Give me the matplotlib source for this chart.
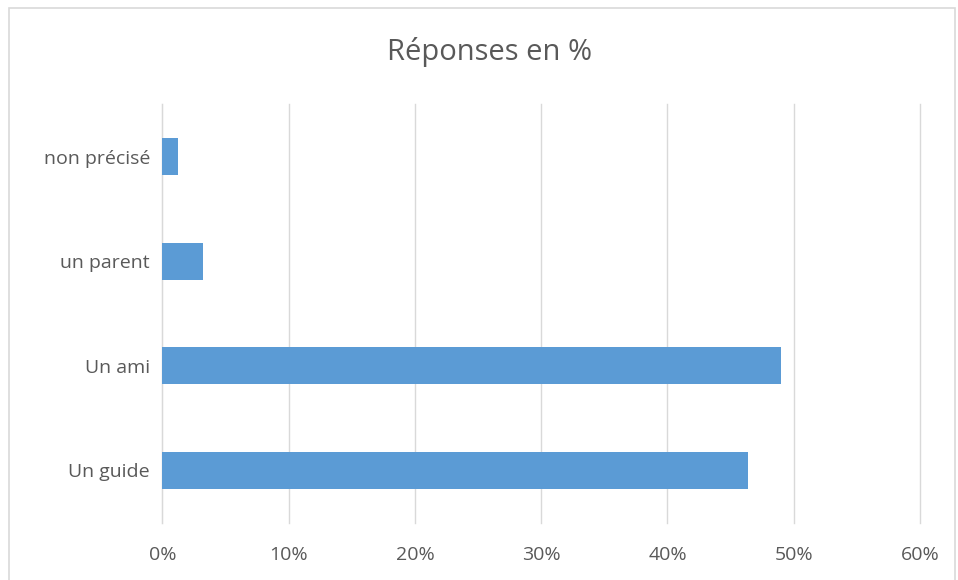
import matplotlib.pyplot as plt
from matplotlib.patches import Rectangle
from matplotlib.ticker import FuncFormatter

categories = ['Un guide', 'Un ami', 'un parent', 'non précisé']
values = [46.4, 49.0, 3.2, 1.25]
ticks = [0, 10, 20, 30, 40, 50, 60]

plt.rcParams['font.family'] = ['Open Sans', 'DejaVu Sans']

fig = plt.figure(figsize=(9.58, 5.8), dpi=100, facecolor='w')
ax = fig.add_axes([0.1696, 0.0988, 0.7907, 0.7212])

ax.barh(range(len(categories)), values, height=0.355, color='#5B9BD5', zorder=3)
ax.set_xlim(0, 60)
ax.set_ylim(-0.5, len(categories) - 0.5)
ax.set_xticks(ticks)
ax.xaxis.set_major_formatter(FuncFormatter(lambda v, p: '{:.0f}%'.format(v)))
ax.set_yticks(range(len(categories)))
ax.set_yticklabels(categories)

ax.grid(axis='x', color='#D9D9D9', linewidth=1, zorder=0)
for gl in ax.get_xgridlines():
    gl.set_clip_on(False)
for s in ['top', 'right', 'bottom']:
    ax.spines[s].set_visible(False)
ax.spines['left'].set_color('#D9D9D9')
ax.tick_params(axis='both', length=0, colors='#595959', labelsize=14)
ax.tick_params(axis='x', pad=17)
ax.tick_params(axis='y', pad=9)

fig.text(0.511, 0.91, 'Réponses en %', ha='center', va='center', fontsize=21,
         color='#595959')

# light frame around the chart
fig.patches.append(Rectangle((9 / 958, -0.01), 946 / 958, 1 - 8 / 580 + 0.01,
                             transform=fig.transFigure, fill=False,
                             edgecolor='#D9D9D9', linewidth=1.2))

fig.savefig('out.png', dpi=100, facecolor='w')
